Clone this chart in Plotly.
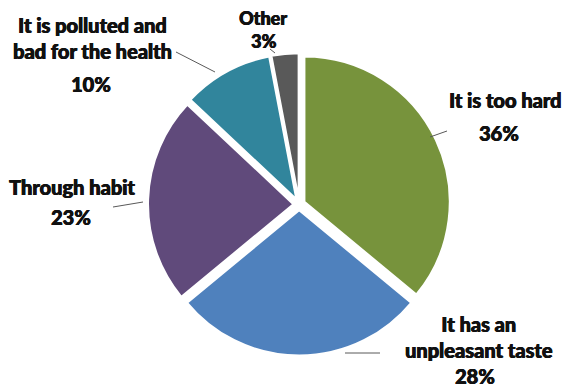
import plotly.graph_objects as go

labels = ["It is too hard", "It has an<br>unpleasant taste", "Through habit",
          "It is polluted and<br>bad for the health", "Other"]
values = [36, 28, 23, 10, 3]
colors = ["#77933C", "#4F81BD", "#604A7B", "#31859C", "#595959"]

# label placement (paper coords) for name and percentage text, and text size
name_pos = [(0.894, 0.742), (0.848, 0.129), (0.127, 0.517), (0.164, 0.903), (0.466, 0.953)]
pct_pos = [(0.884, 0.656), (0.841, 0.028), (0.125, 0.439), (0.161, 0.783), (0.466, 0.893)]
label_size = [20, 20, 20, 20, 18]
leaders = [((447, 131), (430, 137)), ((380, 353), (345, 353)), ((113, 207), (143, 202)),
           ((176, 52), (215, 72)), ((270, 49), (275, 53))]

W, H = 565, 387
fig = go.Figure(go.Pie(
    labels=labels, values=values, sort=False, direction="clockwise", rotation=0,
    marker=dict(colors=colors, line=dict(color="white", width=2)),
    pull=[0.04] * len(values), textinfo="none", hoverinfo="label+percent",
    domain=dict(x=[0.262, 0.797], y=[0.078, 0.866]), showlegend=False,
))

ann = []
for lab, v, (nx, ny), (px, py), sz in zip(labels, values, name_pos, pct_pos, label_size):
    font = dict(family="Lato", size=sz, color="#111111", weight=900,
                shadow="0.5px 0 0 #111111, -0.3px 0 0 #111111")
    ann.append(dict(x=nx, y=ny, xref="paper", yref="paper", text=lab,
                    showarrow=False, font=font, xanchor="center", yanchor="middle"))
    ann.append(dict(x=px, y=py, xref="paper", yref="paper", text="%d%%" % v,
                    showarrow=False, font=font, xanchor="center", yanchor="middle"))

shapes = []
for (x0, y0), (x1, y1) in leaders:
    shapes.append(dict(type="line", xref="paper", yref="paper",
                       x0=x0 / W, y0=1 - y0 / H, x1=x1 / W, y1=1 - y1 / H,
                       line=dict(color="#595959", width=1)))

fig.update_layout(width=W, height=H, margin=dict(l=0, r=0, t=0, b=0),
                  paper_bgcolor="white", plot_bgcolor="white",
                  annotations=ann, shapes=shapes)
fig.write_html("out.html", config={"displayModeBar": False},
               post_script="document.body.style.margin='0';document.body.style.overflow='hidden';")
